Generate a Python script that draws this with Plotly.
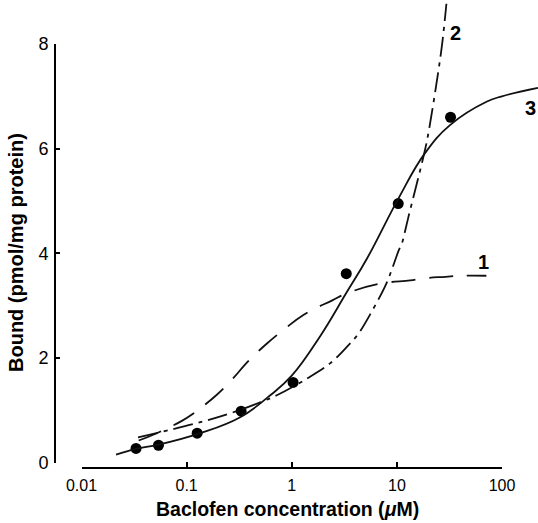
import math
import plotly.graph_objects as go

# ---- data ----
point_conc = [0.033, 0.054, 0.126, 0.33, 1.03, 3.3, 10.3, 32.4]
point_bound = [0.27, 0.33, 0.56, 0.98, 1.53, 3.61, 4.95, 6.60]

curve1_conc = [0.035, 0.052, 0.091, 0.115, 0.195, 0.26, 0.40, 0.585, 0.83, 1.29,
               2.43, 3.4, 7.0, 13.4, 17.9, 29, 42, 71]
curve1_bound = [0.42, 0.56, 0.80, 0.93, 1.30, 1.55, 1.97, 2.28, 2.53, 2.82,
                3.10, 3.24, 3.42, 3.48, 3.52, 3.55, 3.57, 3.57]

curve2_conc = [0.0345, 0.135, 0.26, 0.5, 0.73, 1.41, 2.33, 3.45, 4.3, 5.6, 7.9,
               9.3, 10.3, 11.3, 12.05, 12.9, 18.3, 20, 24.8, 27.1, 29.6]
curve2_bound = [0.48, 0.77, 0.94, 1.15, 1.29, 1.61, 1.90, 2.24, 2.46, 2.84, 3.41,
                3.78, 4.03, 4.22, 4.45, 4.70, 5.93, 6.31, 7.48, 8.04, 8.77]

curve3_conc = [0.0213, 0.033, 0.054, 0.135, 0.32, 0.62, 1.0, 1.87, 3.3, 5.2,
               10.3, 18.3, 32, 72, 100, 220]
curve3_bound = [0.15, 0.26, 0.34, 0.56, 0.86, 1.28, 1.66, 2.42, 3.24, 3.90,
                5.04, 5.90, 6.45, 6.90, 7.00, 7.16]

x_tick_vals = [0.01, 0.1, 1, 10, 100]
x_tick_text = ["0.01", "0.1", "1", "10", "100"]
y_tick_vals = [0, 2, 4, 6, 8]
y_tick_text = ["0", "2", "4", "6", "8"]

curve_labels = ["1", "2", "3"]
curve_label_conc = [66, 35.8, 185]
curve_label_bound = [3.83, 8.21, 6.78]

# ---- layout geometry (pixels) ----
W, H = 538, 523
x_left_px, x_right_px = 81.5, 502.0      # 0.01 and 100
y_zero_px, y_eight_px = 462.5, 44.0      # 0 and 8
xaxis_line_px = 468.0
yaxis_line_px = 55.0
dec_px = (x_right_px - x_left_px) / 4.0
unit_px = (y_zero_px - y_eight_px) / 8.0

FONT = "Liberation Sans, Arial, Helvetica, sans-serif"
line_col = "#111111"

fig = go.Figure()

fig.add_trace(go.Scatter(x=curve1_conc, y=curve1_bound, mode="lines",
                         line=dict(color=line_col, width=1.8, dash="24px,14px",
                                   shape="spline", smoothing=1.2),
                         xaxis="x2", yaxis="y2", hoverinfo="skip", showlegend=False))
fig.add_trace(go.Scatter(x=curve2_conc, y=curve2_bound, mode="lines",
                         line=dict(color=line_col, width=1.8, dash="20px,6px,4px,6px",
                                   shape="spline", smoothing=1.0),
                         xaxis="x2", yaxis="y2", hoverinfo="skip", showlegend=False))
fig.add_trace(go.Scatter(x=curve3_conc, y=curve3_bound, mode="lines",
                         line=dict(color=line_col, width=1.8, shape="spline", smoothing=1.2),
                         xaxis="x2", yaxis="y2", hoverinfo="skip", showlegend=False))
fig.add_trace(go.Scatter(x=point_conc, y=point_bound, mode="markers",
                         marker=dict(color="#000000", size=11),
                         cliponaxis=False, xaxis="x", yaxis="y", showlegend=False))

for lab, cx, cy in zip(curve_labels, curve_label_conc, curve_label_bound):
    fig.add_annotation(x=math.log10(cx), y=cy, xref="x2", yref="y2",
                       text="<b>" + lab + "</b>", showarrow=False,
                       font=dict(family=FONT, size=20, color="#000"))

fig.update_layout(
    width=W, height=H,
    margin=dict(l=0, r=0, t=0, b=0),
    paper_bgcolor="white",
    plot_bgcolor="rgba(0,0,0,0)",
    showlegend=False,
    xaxis=dict(type="log", range=[-2, 2],
               domain=[x_left_px / W, x_right_px / W],
               anchor="free", position=(H - xaxis_line_px) / H,
               showline=True, linecolor="#000", linewidth=1.8,
               ticks="inside", ticklen=5, tickwidth=1.6, tickcolor="#000",
               tickvals=x_tick_vals, ticktext=x_tick_text,
               tickfont=dict(family=FONT, size=16, color="#000"), ticklabelstandoff=3,
               showgrid=False, zeroline=False, automargin=False),
    yaxis=dict(range=[0, 8],
               domain=[(H - y_zero_px) / H, (H - y_eight_px) / H],
               anchor="free", position=yaxis_line_px / W,
               showline=True, linecolor="#000", linewidth=1.8,
               ticks="inside", ticklen=4, tickwidth=1.6, tickcolor="#000",
               tickvals=y_tick_vals, ticktext=y_tick_text,
               tickfont=dict(family=FONT, size=18, color="#000"),
               ticklabelstandoff=2,
               showgrid=False, zeroline=False, automargin=False),
    xaxis2=dict(type="log",
                range=[-2 - x_left_px / dec_px, 2 + (W - x_right_px) / dec_px],
                domain=[0, 1], anchor="y2", visible=False, showgrid=False, zeroline=False),
    yaxis2=dict(range=[-(H - y_zero_px) / unit_px, y_zero_px / unit_px],
                domain=[0, 1], anchor="x2", visible=False, showgrid=False, zeroline=False),
)

fig.add_annotation(x=287 / W, y=(H - 509) / H, xref="paper", yref="paper",
                   text="<b>Baclofen concentration (<i>μ</i>M)</b>", showarrow=False,
                   font=dict(family=FONT, size=19.5, color="#000"),
                   xanchor="center", yanchor="middle")
fig.add_annotation(x=16 / W, y=(H - 253) / H, xref="paper", yref="paper",
                   text="<b>Bound (pmol/mg protein)</b>", showarrow=False,
                   textangle=-90, font=dict(family=FONT, size=20, color="#000"),
                   xanchor="center", yanchor="middle")

fig.write_html("out.html",
               config={"displayModeBar": False},
               post_script="document.body.style.margin='0px';document.body.style.overflow='hidden';")
